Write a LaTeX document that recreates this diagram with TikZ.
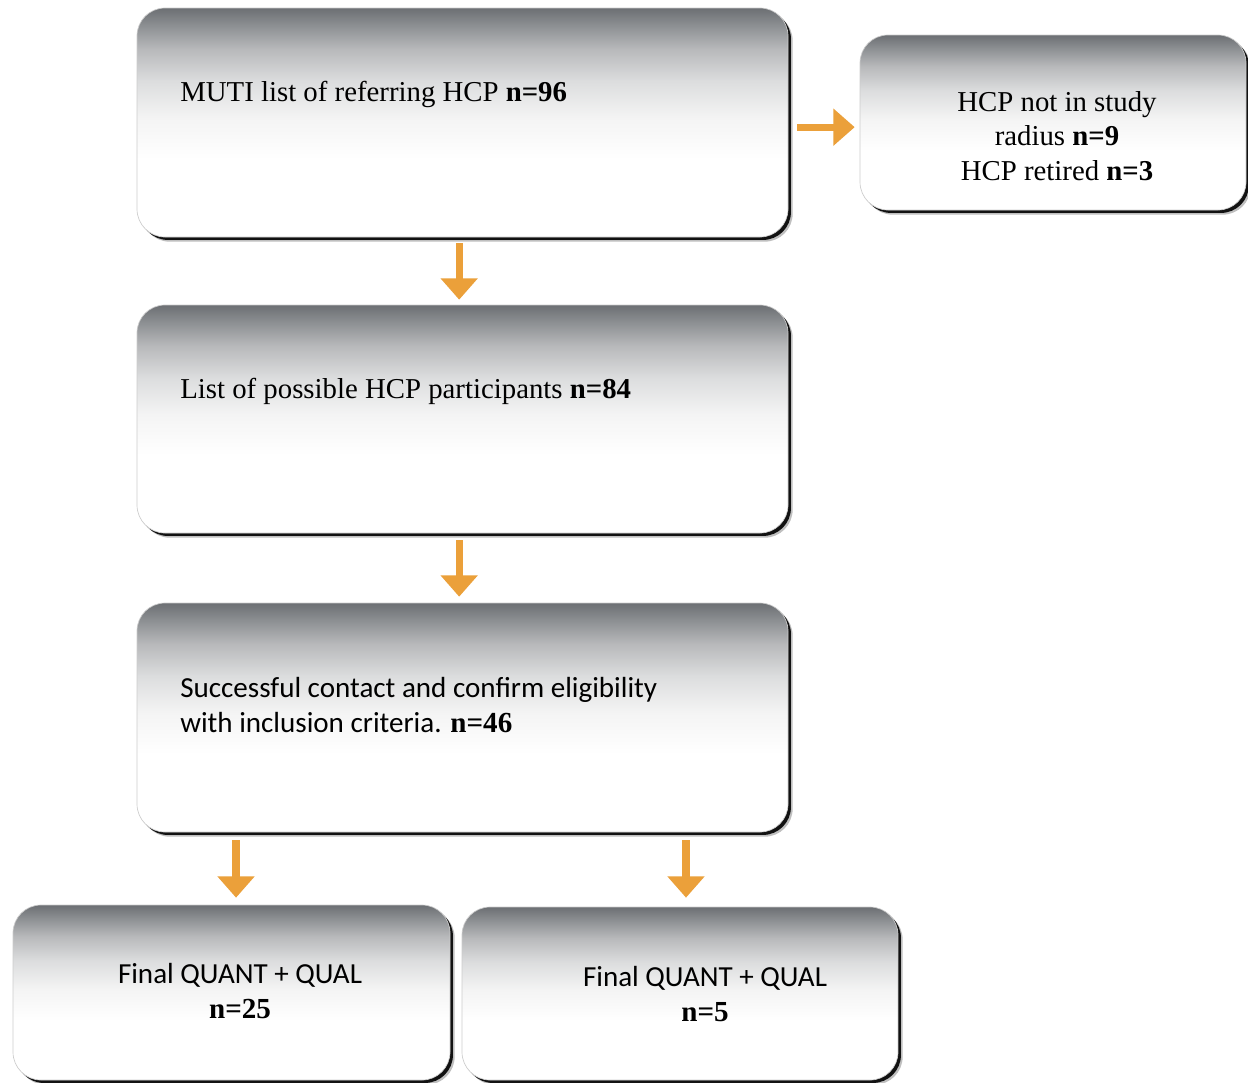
\documentclass[tikz,border=0pt]{standalone}
\usepackage{fontspec}
\setmainfont{Liberation Serif}
\newfontfamily\calib{Carlito}
\usetikzlibrary{arrows.meta,shadows}
\definecolor{orangeA}{RGB}{235,160,58}
\definecolor{gA}{RGB}{108,111,115}
\definecolor{gB}{RGB}{142,145,148}
\definecolor{gC}{RGB}{184,185,187}
\definecolor{gD}{RGB}{220,221,222}
\definecolor{gE}{RGB}{244,244,244}
\pgfdeclareverticalshading{boxshade}{100bp}{color(0bp)=(white); color(25bp)=(white); color(42bp)=(white); color(51bp)=(gE); color(59bp)=(gD); color(66bp)=(gC); color(71bp)=(gB); color(75bp)=(gA); color(100bp)=(gA)}
\tikzset{
  box/.style={rounded corners=21pt, shade, shading=boxshade, draw=gray!40, line width=0.5pt, inner sep=0pt,
    drop shadow={shadow xshift=3.5pt, shadow yshift=-3.5pt, fill=black, opacity=0.25},
    drop shadow={shadow xshift=2.2pt, shadow yshift=-2.2pt, fill=black, opacity=0.9}},
  oarrow/.style={draw=orangeA, line width=5.5pt, -{Triangle[width=27pt,length=16pt]}},
  serif/.style={font=\fontsize{21.6}{26}\selectfont},
  sans/.style={font=\calib\fontsize{21.8}{26}\selectfont},
}
\begin{document}
\begin{tikzpicture}[x=0.75pt,y=-0.75pt]
\useasboundingbox[fill=white] (0,0) rectangle (1248,1082);
% boxes
\node[box, minimum width=488.25pt, minimum height=171.75pt] (b1) at (462.5,122.5) {};
\node[box, minimum width=289.5pt, minimum height=131.25pt] (b2) at (1053,122.5) {};
\node[box, minimum width=488.25pt, minimum height=171pt] (b3) at (462.5,419) {};
\node[box, minimum width=488.25pt, minimum height=171.75pt] (b4) at (462.5,717.5) {};
\node[box, minimum width=327.75pt, minimum height=131.25pt] (b5) at (231.5,992.5) {};
\node[box, minimum width=327pt, minimum height=129.75pt] (b6) at (680,993.5) {};
% texts
\node[serif, anchor=base west, inner sep=0pt] (t1) at (180,101) {MUTI list of referring HCP \textbf{n=96}};
\node[serif, align=center, inner sep=0pt] (t2) at (1057,136) {HCP not in study\\radius \textbf{n=9}\\HCP retired \textbf{n=3}};
\node[serif, anchor=base west, inner sep=0pt] (t3) at (180,398) {List of possible HCP participants \textbf{n=84}};
\node[sans, align=left, anchor=west, inner sep=0pt] (t4) at (180,705) {Successful contact and confirm eligibility\\with inclusion criteria. {\rmfamily\bfseries n=46}};
\node[sans, align=center, inner sep=0pt] (t5) at (240,991) {Final QUANT + QUAL\\{\rmfamily\bfseries n=25}};
\node[sans, align=center, inner sep=0pt] (t6) at (705,994) {Final QUANT + QUAL\\{\rmfamily\bfseries n=5}};
% arrows
\draw[oarrow, shorten <=4.5pt, shorten >=3.75pt] ([xshift=-2.5pt]b1.south) -- ([xshift=-2.5pt]b3.north);
\draw[oarrow, shorten <=6.75pt, shorten >=3.75pt] ([yshift=-3.5pt]b1.east) -- ([yshift=-3.5pt]b2.west);
\draw[oarrow, shorten <=5.25pt, shorten >=4.5pt] ([xshift=-2.5pt]b3.south) -- ([xshift=-2.5pt]b4.north);
\draw[oarrow, shorten <=6pt, shorten >=5.25pt] ([xshift=3.4pt]b5.north |- b4.south) -- ([xshift=3.4pt]b5.north);
\draw[oarrow, shorten <=6pt, shorten >=6.75pt] ([xshift=4.5pt]b6.north |- b4.south) -- ([xshift=4.5pt]b6.north);
\end{tikzpicture}
\end{document}
